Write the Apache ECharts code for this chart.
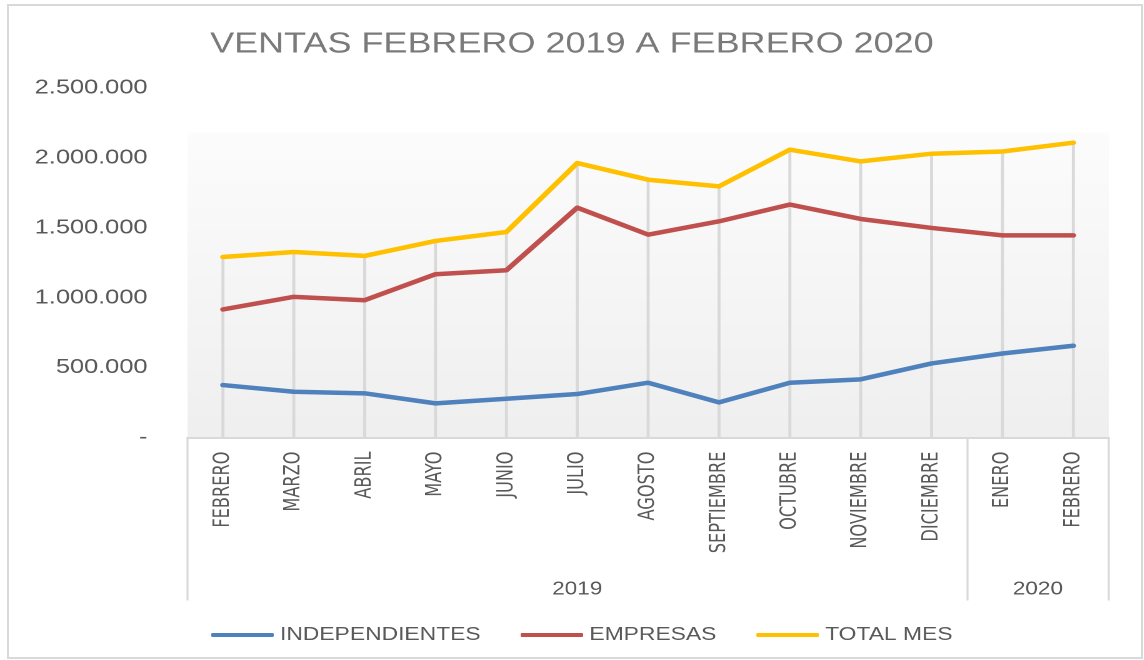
<!DOCTYPE html>
<html>
<head>
<meta charset="utf-8">
<script src="https://cdn.jsdelivr.net/npm/echarts@6/dist/echarts.min.js"></script>
<style>
  body { margin: 0; background: #fff; }
  #frame { position: absolute; left: 7px; top: 4px; width: 1136px; height: 655px; border: 2px solid #d9d9d9; box-sizing: border-box; }
  /* the reference is stretched sideways, so the chart is drawn narrower and widened */
  #chart { position: absolute; left: 0; top: 0; width: 915px; height: 660px; transform: scaleX(1.25); transform-origin: 0 0; }
</style>
</head>
<body>
<div id="frame"></div>
<div id="chart"></div>
<script>
const months = ['FEBRERO', 'MARZO', 'ABRIL', 'MAYO', 'JUNIO', 'JULIO', 'AGOSTO',
  'SEPTIEMBRE', 'OCTUBRE', 'NOVIEMBRE', 'DICIEMBRE', 'ENERO', 'FEBRERO'];
const years = ['2019', '2020'];
const monthsPerYear = [11, 2];

const independientes = [375000, 327000, 316000, 244000, 277000, 311000, 392000,
  251000, 392000, 416000, 530000, 601000, 656000];
const empresas = [916000, 1006000, 982000, 1168000, 1196000, 1644000, 1451000,
  1546000, 1666000, 1563000, 1499000, 1446000, 1446000];
const totalMes = [1291000, 1327000, 1299000, 1406000, 1470000, 1963000, 1844000,
  1796000, 2059000, 1975000, 2030000, 2046000, 2109000];

// year group borders and centres, in category index units
let yearBounds = [-0.5], yearCenters = [];
monthsPerYear.forEach(n => {
  let start = yearBounds[yearBounds.length - 1];
  yearCenters.push(start + n / 2);
  yearBounds.push(start + n);
});

const font = 'Liberation Sans, Arial, sans-serif';
const narrowFont = '"Liberation Sans Narrow", "DejaVu Sans Condensed", "Liberation Sans", sans-serif';
const textColor = '#595959';

function fmt(v) {
  if (v === 0) return '-';
  return String(v).replace(/\B(?=(\d{3})+(?!\d))/g, '.');
}

let chart = echarts.init(document.getElementById('chart'), null, {devicePixelRatio: 2});
chart.setOption({
  animation: false,
  title: {
    text: 'VENTAS FEBRERO 2019 A FEBRERO 2020',
    left: 'center',
    top: 25,
    textStyle: {fontFamily: font, fontSize: 28.8, fontWeight: 'normal', color: '#7a7a7a'}
  },
  legend: {
    data: ['INDEPENDIENTES', 'EMPRESAS', 'TOTAL MES'],
    left: 164,
    top: 621,
    icon: 'roundRect',
    itemWidth: 50,
    itemHeight: 4,
    itemGap: 32,
    textStyle: {fontFamily: font, fontSize: 18.3, color: textColor}
  },
  grid: {
    left: 150,
    right: 28,
    top: 88,
    bottom: 222.5,
    show: true,
    borderWidth: 0,
    backgroundColor: {
      type: 'linear', x: 0, y: 0, x2: 0, y2: 1,
      colorStops: [
        {offset: 0, color: '#ffffff'},
        {offset: 0.127, color: '#ffffff'},
        {offset: 0.13, color: '#fcfcfc'},
        {offset: 1, color: '#efefef'}
      ]
    }
  },
  xAxis: [
    {
      type: 'category',
      data: months,
      boundaryGap: true,
      axisLine: {lineStyle: {color: '#d9d9d9', width: 2}},
      axisTick: {show: false},
      axisLabel: {rotate: 90, margin: 14, interval: 0, fontFamily: narrowFont, fontSize: 18, color: textColor}
    },
    {
      type: 'value',
      position: 'bottom',
      min: -0.5,
      max: months.length - 0.5,
      axisLine: {show: false},
      splitLine: {show: false},
      axisTick: {show: true, customValues: yearBounds, length: 163, lineStyle: {color: '#d9d9d9', width: 1.6}},
      axisLabel: {
        customValues: yearCenters,
        margin: 143,
        fontFamily: font, fontSize: 18, color: textColor,
        formatter: v => years[yearCenters.indexOf(v)]
      }
    }
  ],
  yAxis: {
    type: 'value',
    min: 0,
    max: 2500000,
    interval: 500000,
    axisLine: {show: false},
    axisTick: {show: false},
    splitLine: {show: false},
    axisLabel: {margin: 32, fontFamily: font, fontSize: 20.3, color: textColor, formatter: fmt}
  },
  series: [
    {
      // drop lines from the top series down to the axis
      name: 'drop',
      type: 'bar',
      data: totalMes,
      barWidth: 2.4,
      silent: true,
      z: 1,
      itemStyle: {color: '#d9d9d9'}
    },
    {
      name: 'INDEPENDIENTES',
      type: 'line',
      data: independientes,
      showSymbol: false,
      z: 3,
      lineStyle: {color: '#4f81bd', width: 4.5, cap: 'round', join: 'round'},
      itemStyle: {color: '#4f81bd'}
    },
    {
      name: 'EMPRESAS',
      type: 'line',
      data: empresas,
      showSymbol: false,
      z: 3,
      lineStyle: {color: '#c0504d', width: 4.5, cap: 'round', join: 'round'},
      itemStyle: {color: '#c0504d'}
    },
    {
      name: 'TOTAL MES',
      type: 'line',
      data: totalMes,
      showSymbol: false,
      z: 3,
      lineStyle: {color: '#ffc000', width: 4.5, cap: 'round', join: 'round'},
      itemStyle: {color: '#ffc000'}
    }
  ]
});
</script>
</body>
</html>
